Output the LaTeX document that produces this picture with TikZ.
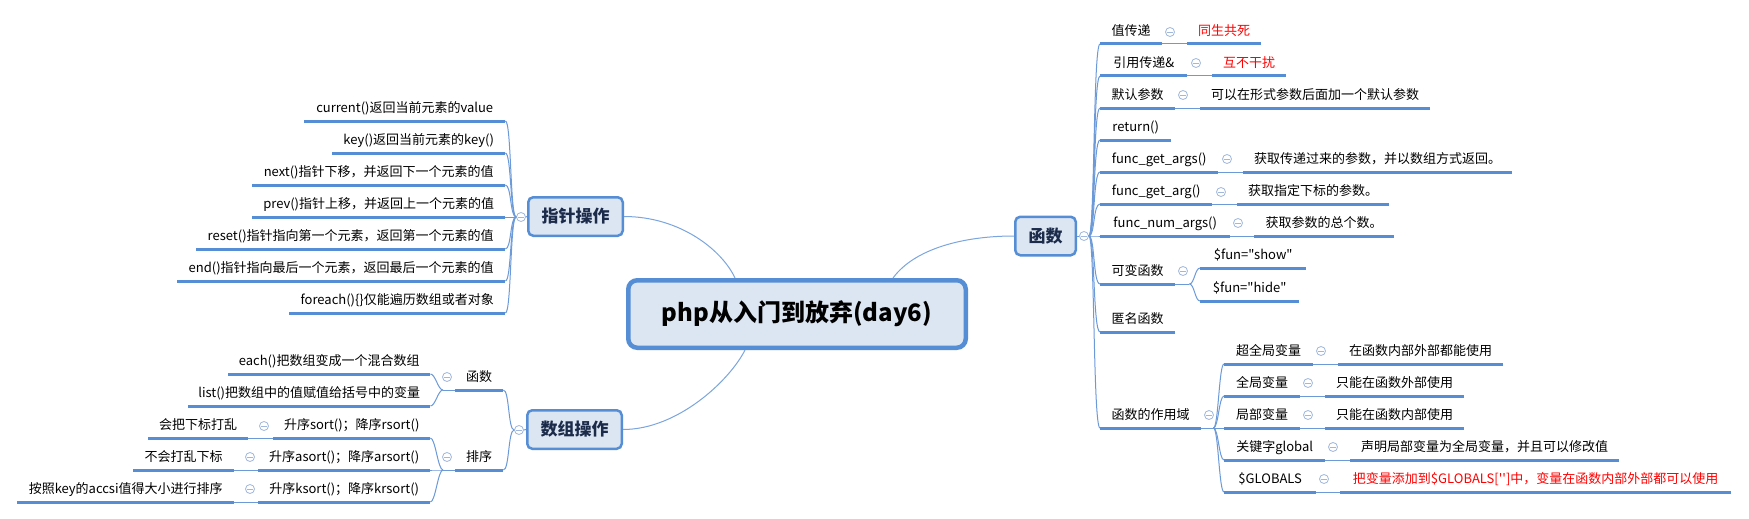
\documentclass[tikz,border=0pt]{standalone}
\usepackage{fontspec}
\newfontfamily\cjk{Noto Sans CJK SC}
\usetikzlibrary{calc}
\definecolor{ulc}{HTML}{558ED5}
\definecolor{cnc}{HTML}{6C9AD9}
\definecolor{mcn}{HTML}{7BA5DE}
\definecolor{boxf}{HTML}{DCE6F2}
\definecolor{colc}{HTML}{9FB8DC}
\definecolor{navy}{HTML}{1C2B4A}
\definecolor{redt}{HTML}{FF0000}
\tikzset{
  topic/.style={anchor=south west, inner xsep=0pt, inner ysep=5pt, text height=10pt, text depth=3pt,
    font=\cjk\fontsize{13}{15}\selectfont, text=black},
  redtopic/.style={topic, text=redt},
  ul/.style={draw=ulc, line width=3pt},
  conn/.style={draw=cnc, line width=1pt},
  mconn/.style={draw=mcn, line width=1pt},
  col/.style={circle, draw=colc, fill=white, line width=0.8pt, minimum size=9pt, inner sep=0pt,
    path picture={\draw[colc, line width=0.8pt] ([xshift=-2.6pt]path picture bounding box.center) -- ([xshift=2.6pt]path picture bounding box.center);}},
  mainbox/.style={rectangle, rounded corners=5pt, draw=ulc, line width=2.5pt, fill=boxf,
    font=\cjk\bfseries\fontsize{17}{20}\selectfont, text=navy, minimum height=38.5pt, inner sep=0pt},
  central/.style={rectangle, rounded corners=9pt, draw=ulc, line width=4.5pt, fill=boxf,
    font=\cjk\bfseries\fontsize{24}{28}\selectfont, text=black, minimum width=337.5pt, minimum height=67.5pt, inner sep=0pt}
}
\begin{document}
\begin{tikzpicture}[x=1pt,y=-1pt]
\useasboundingbox[fill=white] (0,0) rectangle (1749,519);

% central and main boxes
\node[central] (ctr) at (797,314) {php从入门到放弃(day6)};
\node[mainbox, minimum width=94.5pt] (ptr) at (575.5,216.5) {指针操作};
\node[mainbox, minimum width=94.5pt] (arr) at (574.5,429.5) {数组操作};
\node[mainbox, minimum width=60.5pt] (fn) at (1045.5,236) {函数};

% collapse circles of main boxes
\node[col] (cp) at (521,217) {};
\node[col] (ca) at (519,430) {};
\node[col] (cf) at (1084,236) {};

% ---- pointer operations (left top)
\node[topic, minimum width=201pt] (p1) at (304,121) {current()返回当前元素的value};
\node[topic, minimum width=173pt] (p2) at (332,153) {key()返回当前元素的key()};
\node[topic, minimum width=253pt] (p3) at (252,185) {next()指针下移，并返回下一个元素的值};
\node[topic, minimum width=253pt] (p4) at (252,217) {prev()指针上移，并返回上一个元素的值};
\node[topic, minimum width=309pt] (p5) at (196,249) {reset()指针指向第一个元素，返回第一个元素的值};
\node[topic, minimum width=328pt] (p6) at (177,281) {end()指针指向最后一个元素，返回最后一个元素的值};
\node[topic, minimum width=216pt] (p7) at (289,313) {foreach()\{\}仅能遍历数组或者对象};

% ---- array operations (left bottom)
\node[topic, minimum width=48pt] (a1) at (455,390) {函数};
\node[topic, minimum width=48pt] (a2) at (455,470) {排序};
\node[col] (ca1) at (447,377) {};
\node[col] (ca2) at (447,457) {};
\node[topic, minimum width=202pt] (e1) at (228,374) {each()把数组变成一个混合数组};
\node[topic, minimum width=242pt] (e2) at (188,406) {list()把数组中的值赋值给括号中的变量};
\node[topic, minimum width=157pt] (s1) at (273,438) {升序sort()；降序rsort()};
\node[topic, minimum width=172pt] (s2) at (258,470) {升序asort()；降序arsort()};
\node[topic, minimum width=172pt] (s3) at (258,502) {升序ksort()；降序krsort()};
\node[topic, minimum width=100pt] (s1c) at (148,438) {会把下标打乱};
\node[topic, minimum width=101pt] (s2c) at (133,470) {不会打乱下标};
\node[topic, minimum width=217pt] (s3c) at (17,502) {按照key的accsi值得大小进行排序};
\node[col] (cs1) at (264,426) {};
\node[col] (cs2) at (250,457) {};
\node[col] (cs3) at (250,489) {};

% ---- functions (right)
\node[topic, minimum width=62pt] (r1) at (1100,44) {值传递};
\node[redtopic, minimum width=74pt] (r1c) at (1187,44) {同生共死};
\node[topic, minimum width=87pt] (r2) at (1100,76) {引用传递\&};
\node[redtopic, minimum width=74pt] (r2c) at (1212,76) {互不干扰};
\node[topic, minimum width=75pt] (r3) at (1100,108) {默认参数};
\node[topic, minimum width=230pt] (r3c) at (1200,108) {可以在形式参数后面加一个默认参数};
\node[topic, minimum width=71pt] (r4) at (1100,140) {return()};
\node[topic, minimum width=118pt] (r5) at (1100,172) {func\_get\_args()};
\node[topic, minimum width=269pt] (r5c) at (1243,172) {获取传递过来的参数，并以数组方式返回。};
\node[topic, minimum width=112pt] (r6) at (1100,204) {func\_get\_arg()};
\node[topic, minimum width=152pt] (r6c) at (1237,204) {获取指定下标的参数。};
\node[topic, minimum width=130pt] (r7) at (1100,236) {func\_num\_args()};
\node[topic, minimum width=140pt] (r7c) at (1254,236) {获取参数的总个数。};
\node[topic, minimum width=75pt] (r8) at (1100,284) {可变函数};
\node[topic, minimum width=106pt] (r8a) at (1200,268) {\$fun="show"};
\node[topic, minimum width=99pt] (r8b) at (1200,301) {\$fun="hide"};
\node[topic, minimum width=75pt] (r9) at (1100,332) {匿名函数};
\node[topic, minimum width=101pt] (r10) at (1100,428) {函数的作用域};
\node[topic, minimum width=89pt] (g1) at (1224,364) {超全局变量};
\node[topic, minimum width=165pt] (g1c) at (1338,364) {在函数内部外部都能使用};
\node[topic, minimum width=76pt] (g2) at (1224,396) {全局变量};
\node[topic, minimum width=139pt] (g2c) at (1325,396) {只能在函数外部使用};
\node[topic, minimum width=76pt] (g3) at (1224,428) {局部变量};
\node[topic, minimum width=139pt] (g3c) at (1325,428) {只能在函数内部使用};
\node[topic, minimum width=101pt] (g4) at (1224,460) {关键字global};
\node[topic, minimum width=269pt] (g4c) at (1350,460) {声明局部变量为全局变量，并且可以修改值};
\node[topic, minimum width=92pt] (g5) at (1224,492) {\$GLOBALS};
\node[redtopic, minimum width=391pt] (g5c) at (1340,492) {把变量添加到\$GLOBALS['\kern0pt']中，变量在函数内部外部都可以使用};
\node[col] (cr1) at (1170,32) {};
\node[col] (cr2) at (1196,63) {};
\node[col] (cr3) at (1183,95) {};
\node[col] (cr5) at (1227,159) {};
\node[col] (cr6) at (1221,192) {};
\node[col] (cr7) at (1238,223) {};
\node[col] (cr8) at (1183,271) {};
\node[col] (cr10) at (1209,415) {};
\node[col] (cg1) at (1321,351) {};
\node[col] (cg2) at (1308,383) {};
\node[col] (cg3) at (1308,415) {};
\node[col] (cg4) at (1333,447) {};
\node[col] (cg5) at (1324,479) {};

% underlines
\foreach \n in {p1,p2,p3,p4,p5,p6,p7,a1,a2,e1,e2,s1,s2,s3,s1c,s2c,s3c,
  r1,r1c,r2,r2c,r3,r3c,r4,r5,r5c,r6,r6c,r7,r7c,r8,r8a,r8b,r9,r10,
  g1,g1c,g2,g2c,g3,g3c,g4,g4c,g5,g5c}
  \draw[ul] (\n.south west) -- (\n.south east);

% central connectors
\draw[mconn] ([xshift=-62pt]ctr.north) .. controls +(-13,-28) and +(56,0) .. (ptr.east);
\draw[mconn] ([xshift=96pt]ctr.north) .. controls +(22,-30) and +(-49,0) .. (fn.west);
\draw[mconn] ([xshift=-52pt]ctr.south) .. controls +(-15,30) and +(55,0) .. (arr.east);

% pointer branch
\draw[conn] (ptr.west) -- (cp.east);
\foreach \n in {p1,p2,p3,p4,p5,p6,p7}
  \draw[conn] (cp.west) .. controls +(-6,0) and +(6,0) .. (\n.south east);

% array branch
\draw[conn] (arr.west) -- (ca.east);
\foreach \n in {a1,a2}
  \draw[conn] (ca.west) .. controls +(-6,0) and +(6,0) .. (\n.south east);
\draw[conn] (a1.south west) -- ++(-12,0) coordinate (ja1);
\foreach \n in {e1,e2}
  \draw[conn] (ja1) .. controls +(-5,0) and +(5,0) .. (\n.south east);
\draw[conn] (a2.south west) -- ++(-12,0) coordinate (ja2);
\foreach \n in {s1,s2,s3}
  \draw[conn] (ja2) .. controls +(-5,0) and +(5,0) .. (\n.south east);
\foreach \n in {s1,s2,s3}
  \draw[conn] (\n.south west) -- (\n c.south east);

% function branch
\draw[conn] (fn.east) -- (cf.west);
\foreach \n in {r1,r2,r3,r4,r5,r6,r7,r8,r9,r10}
  \draw[conn] (cf.east) .. controls +(6,0) and +(-7,0) .. (\n.south west);
\foreach \n in {r1,r2,r3,r5,r6,r7}
  \draw[conn] (\n.south east) -- (\n c.south west);
\draw[conn] (r8.south east) -- ++(14,0) coordinate (j8);
\foreach \n in {r8a,r8b}
  \draw[conn] (j8) .. controls +(5,0) and +(-5,0) .. (\n.south west);
\draw[conn] (r10.south east) -- ++(12,0) coordinate (j10);
\foreach \n in {g1,g2,g3,g4,g5}
  \draw[conn] (j10) .. controls +(5,0) and +(-5,0) .. (\n.south west);
\foreach \n in {g1,g2,g3,g4,g5}
  \draw[conn] (\n.south east) -- (\n c.south west);
\end{tikzpicture}
\end{document}
